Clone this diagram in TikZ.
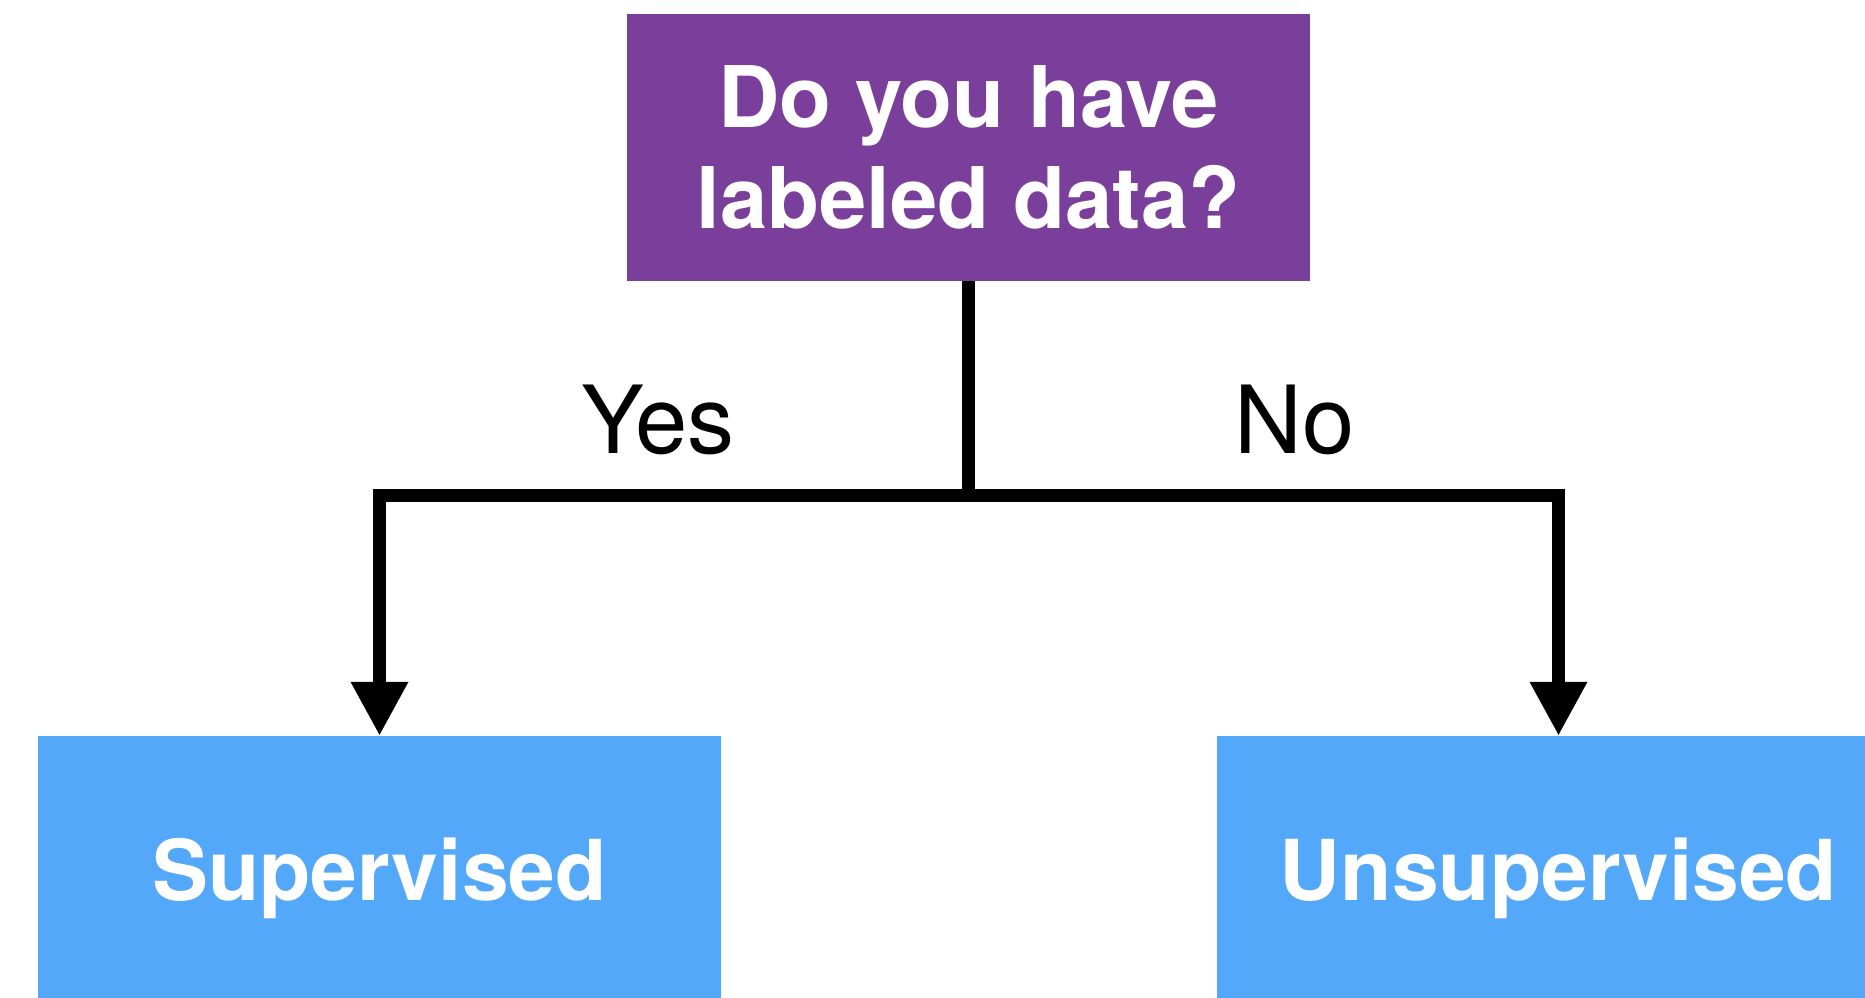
\documentclass[tikz,border=0pt]{standalone}
\usepackage{fontspec}
\setmainfont{TeX Gyre Heros}
\usepackage{tikz}
\usetikzlibrary{arrows.meta}

\definecolor{askpurple}{RGB}{121,63,154}
\definecolor{ansblue}{RGB}{83,168,249}

\tikzset{
    question/.style={fill=askpurple, text=white, minimum width=683pt, minimum height=267pt,
        inner sep=0pt, align=center, font=\fontsize{85}{101}\selectfont\bfseries},
    answer/.style={fill=ansblue, text=white, minimum width=683pt, minimum height=267pt,
        inner sep=0pt, text depth=0pt, font=\fontsize{84}{100}\selectfont\bfseries},
    choice/.style={anchor=base, inner sep=0pt, font=\fontsize{94}{110}\selectfont},
    wire/.style={line width=13pt, line join=miter},
    branch/.style={wire, -{Triangle[width=54pt, length=54pt]}}
}

\begin{document}
\begin{tikzpicture}[x=1pt, y=-1pt]
    \useasboundingbox (0,0) rectangle (1865,998);
    \clip (0,0) rectangle (1865,998);

    % Question on top
    \node[question] (ask) at (968.5,147.5) {Do you have\\labeled data?};

    % The two answers
    \node[answer] (sup) at (379.5,869.5) {Supervised};
    \node[answer] (unsup) at (1558.5,869.5) {Unsupervised};

    % Connectors
    \coordinate (fork) at (968.5,495);
    \draw[wire] (ask.south) -- (fork);
    \draw[branch] (fork) -| (sup.north);
    \draw[branch] (fork) -| (unsup.north);

    \node[choice] (yes) at (658,453) {Yes};
    \node[choice] (no) at (1295,453) {No};
\end{tikzpicture}
\end{document}
